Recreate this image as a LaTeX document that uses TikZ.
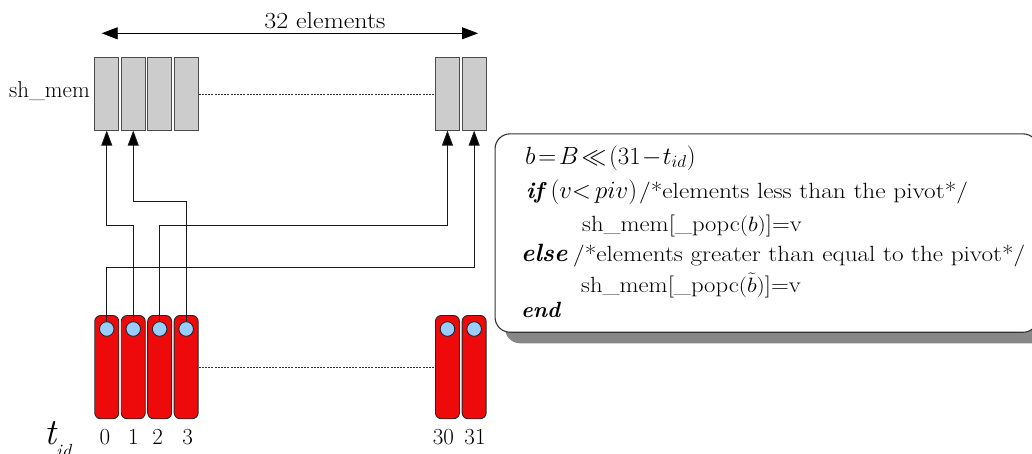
\documentclass[tikz,border=0pt]{standalone}
\usepackage{graphicx}
\usetikzlibrary{arrows.meta,calc}
\definecolor{cellgray}{HTML}{CCCCCC}
\definecolor{thrred}{HTML}{EE0A0A}
\definecolor{regblue}{HTML}{99CCFF}
\definecolor{shadegray}{HTML}{878787}
\newcommand{\fs}[1]{\fontsize{#1}{#1}\selectfont}
\newcommand{\wide}[1]{\scalebox{1.13}[1]{#1}}
\newcommand{\wider}[1]{\scalebox{1.15}[1]{#1}}
\begin{document}
\begin{tikzpicture}[x=1pt,y=-1pt,
  cell/.style={draw=black!70,line width=0.9pt,fill=cellgray,minimum width=24pt,
    minimum height=72.4pt,inner sep=0pt,anchor=north west},
  thread/.style={draw=black!85,line width=0.9pt,fill=thrred,rounded corners=6pt,
    minimum width=24pt,minimum height=103.3pt,inner sep=0pt,anchor=north west},
  regdot/.style={circle,draw=black!85,line width=0.9pt,fill=regblue,
    minimum size=14.6pt,inner sep=0pt},
  conn/.style={draw=black!90,line width=0.9pt},
  uparrow/.style={conn,-{Triangle[length=15pt,width=11pt,fill=black]}},
  gap/.style={draw=black!80,line width=0.6pt,dash pattern=on 2pt off 1.2pt},
  lbl/.style={inner sep=0pt,anchor=base},
  code/.style={inner sep=0pt,anchor=base west}]
\clip (0,0) rectangle (1032,453);

% width marker above the shared memory
\coordinate (wl) at (101.7,33.3);
\coordinate (wr) at (478,33.3);
\draw[line width=0.9pt,{Triangle[length=16pt,width=12pt]}-{Triangle[length=16pt,width=12pt]}] (wl) -- (wr);
\node[lbl] (nelem) at (325,28.3) {\fs{23}\wide{32 elements}};

% shared memory cells
\node[anchor=base east,inner sep=0pt] (shlbl) at (90,97) {\fs{23}sh\_mem};
\foreach \i/\x in {0/94.3,1/120.8,2/147.2,3/173.7,30/435,31/461.7}
  \node[cell] (m\i) at (\x,57.3) {};
\draw[gap] (m3.east) -- (m30.west);

% threads with their registers
\foreach \i/\x in {0/94.3,1/120.8,2/147.2,3/173.7,30/435,31/461.7}{
  \node[thread] (t\i) at (\x,315) {};
  \node[regdot] (c\i) at ($(t\i.north)+(0,14)$) {};
}
\draw[gap] (t3.east) -- (t30.west);

% thread indices
\node[anchor=base west,inner sep=0pt] (tid) at (44,444)
  {\fs{37}\itshape t\raisebox{-13pt}{\fs{19}id}};
\foreach \i/\x in {0/105,1/133.3,2/157.7,3/187.7,30/443.3,31/475}
  \node[lbl] (n\i) at (\x,444) {\fs{23}\i};

% routing levels
\coordinate (ha) at (0,201);
\coordinate (hb) at (0,225);
\coordinate (hc) at (0,267.7);

% scatter connectors
\draw[uparrow] (c1.north) -- (c1.north |- hb) -| (m0.south);
\draw[uparrow] (c3.north) -- (c3.north |- ha) -| (m1.south);
\draw[uparrow] (c2.north) -- (c2.north |- hb) -| (m30.south);
\draw[uparrow] (c0.north) -- (c0.north |- hc) -| (m31.south);

% pseudo-code panel
\fill[shadegray,rounded corners=15pt] (505,144.5) rectangle (1048,343.3);
\node[draw=black!80,line width=1.1pt,fill=white,rounded corners=15pt,
  minimum width=543pt,minimum height=198.4pt,inner sep=0pt,anchor=north west]
  (panel) at (494.5,133.3) {};

\node[code] (l1) at (525,164) {\fs{23}$b\!=\!B\!\ll\!\bigl(31\!-\!t_{id}\bigr)$};
\node[code] (l2a) at (526,198) {\fs{23}\textbf{\textit{if}}\,$\bigl(v{<}\,piv\bigr)$};
\node[code] (l2b) at (639,198) {\fs{22}\wider{/*elements less than the pivot*/}};
\node[code] (l3) at (582,231) {\fs{22}\scalebox{1.12}[1]{sh\_mem[\_popc$\bigl(b\bigr)$]=v}};
\node[code] (l4a) at (521,261) {\fs{25}\textbf{\textit{else}}};
\node[code] (l4b) at (573,261) {\fs{22}\scalebox{1.145}[1]{/*elements greater than equal to the pivot*/}};
\node[code] (l5) at (581,292) {\fs{22}\scalebox{1.12}[1]{sh\_mem[\_popc$\bigl(\tilde{b}\bigr)$]=v}};
\node[code] (l6) at (521,317) {\fs{22}\textbf{\textit{end}}};
\end{tikzpicture}
\end{document}
